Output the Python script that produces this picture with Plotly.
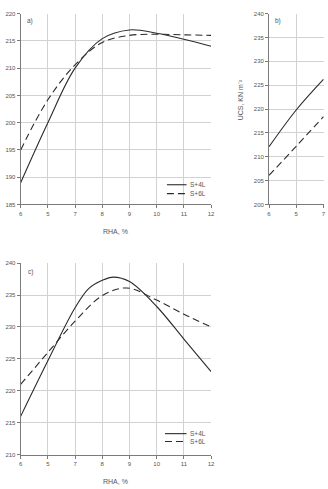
import plotly.graph_objects as go

# ---- data ----
rha = [5, 6, 7, 8, 9, 10, 11, 12]
tick_labels = ["6", "5", "7", "8", "9", "10", "11", "12"]

a_rha = [5, 6, 7, 8, 9, 10, 11, 12]
a_s4l = [189.0, 200.0, 210.0, 215.4, 217.0, 216.4, 215.3, 214.0]
a_s6l = [195.0, 204.2, 210.6, 214.7, 216.0, 216.2, 216.1, 216.0]

b_rha = [5, 6, 7]
b_s4l = [212.1, 219.8, 226.2]
b_s6l = [206.1, 212.2, 218.4]

c_rha_s4l = [5, 6, 7, 7.5, 8, 8.4, 9, 10, 11, 12]
c_s4l = [216.0, 224.7, 233.0, 236.0, 237.3, 237.8, 237.1, 233.2, 228.1, 223.0]
c_rha_s6l = [5, 6, 7, 8, 8.9, 10, 11, 12]
c_s6l = [221.0, 226.0, 230.9, 234.9, 236.1, 234.2, 232.0, 230.0]

series_names = ["S+4L", "S+6L"]

W, H = 328, 489
def px(x):
    return x / W
def py(y):
    return 1 - y / H

LINE = "#2b2b2b"
DASH = "7px,4px"
FONT = "Liberation Sans, Arial, sans-serif"
TXT = "#555555"

fig = go.Figure()
def add(x, y, name, dash, xa, ya):
    fig.add_trace(go.Scatter(x=x, y=y, name=name, mode="lines",
                             line=dict(color=LINE, width=1.1, dash=dash, shape="spline", smoothing=1.0),
                             xaxis=xa, yaxis=ya, showlegend=False, hoverinfo="skip"))

add(a_rha, a_s4l, series_names[0], "solid", "x", "y")
add(a_rha, a_s6l, series_names[1], DASH, "x", "y")
add(b_rha, b_s4l, series_names[0], "solid", "x2", "y2")
add(b_rha, b_s6l, series_names[1], DASH, "x2", "y2")
add(c_rha_s4l, c_s4l, series_names[0], "solid", "x3", "y3")
add(c_rha_s6l, c_s6l, series_names[1], DASH, "x3", "y3")

def xaxis(domain, rng, anchor):
    return dict(domain=domain, range=rng, anchor=anchor, tickvals=rha, ticktext=tick_labels,
                showline=True, linecolor="#7a7a7a", linewidth=1, ticks="outside", ticklen=3,
                tickcolor="#7a7a7a", showgrid=True, gridcolor="#d2d2d2", gridwidth=1,
                zeroline=False, tickfont=dict(size=6, color=TXT, family=FONT), fixedrange=True)

def yaxis(domain, rng, dtick, anchor):
    return dict(domain=domain, range=rng, anchor=anchor, dtick=dtick, tick0=rng[0],
                showline=True, linecolor="#7a7a7a", linewidth=1, ticks="outside", ticklen=3,
                tickcolor="#7a7a7a", showgrid=True, gridcolor="#d2d2d2", gridwidth=1,
                zeroline=False, tickfont=dict(size=6, color=TXT, family=FONT), fixedrange=True)

ad = [px(19), px(213)]
bd = [px(272), 1.0]
top_dom = [py(204), py(10.7)]
bot_dom = [py(457.3), py(263.3)]

fig.update_layout(
    width=W, height=H, margin=dict(l=0, r=0, t=0, b=0),
    paper_bgcolor="white", plot_bgcolor="white",
    xaxis=xaxis(ad, [5, 12], "y"),
    yaxis=yaxis(top_dom, [185, 220], 5, "x"),
    xaxis2=xaxis(bd, [5, 5 + 56 / 27.7], "y2"),
    yaxis2=yaxis(top_dom, [200, 240], 5, "x2"),
    xaxis3=xaxis(ad, [5, 12], "y3"),
    yaxis3=yaxis(bot_dom, [210, 240], 5, "x3"),
    showlegend=False,
    font=dict(family=FONT, color=TXT),
)

ann = []
def text(x, y, s, size=7, xanchor="center", angle=0):
    ann.append(dict(x=px(x), y=py(y), xref="paper", yref="paper", text=s, showarrow=False,
                    xanchor=xanchor, yanchor="middle", textangle=angle,
                    font=dict(size=size, color=TXT, family=FONT)))

text(116, 231, "RHA, %")
text(116, 484, "RHA, %")
text(243, 98, "UCS, KN m\u207b\u00b2", angle=-90)
text(23, 18, "a)", size=6.5, xanchor="left")
text(276, 18, "b)", size=6.5, xanchor="left")
text(24, 272, "c)", size=6.5, xanchor="left")

shapes = []
def legend(x0, x1, ys):
    for i, name in enumerate(series_names):
        y = ys[i]
        shapes.append(dict(type="line", xref="paper", yref="paper", x0=px(x0), x1=px(x1),
                           y0=py(y), y1=py(y),
                           line=dict(color=LINE, width=1.1, dash="solid" if i == 0 else DASH)))
        text(x1 + 1.5, y, name, size=6.5, xanchor="left")

legend(168, 188, [184, 193])
legend(166, 188, [436, 444])

fig.update_layout(annotations=ann, shapes=shapes)
fig.write_html("out.html")
